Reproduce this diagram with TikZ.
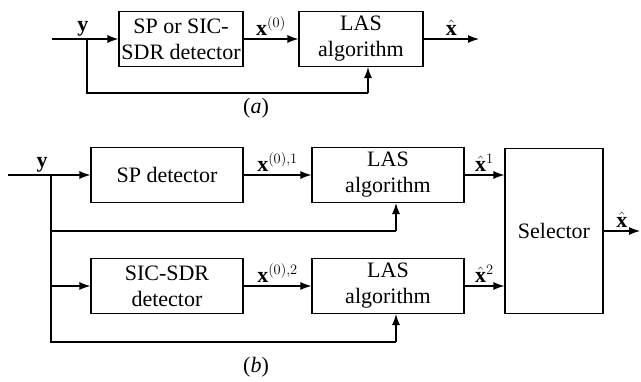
\documentclass[tikz,border=0pt]{standalone}
\usepackage{amsmath}
\usepackage{fontspec}
\setmainfont{Liberation Serif}
\usetikzlibrary{arrows.meta,calc,positioning}

\tikzset{blk/.style={draw,line width=1.1pt,inner sep=0pt,align=center,minimum height=55pt},
  sig/.style={line width=1.1pt},
  lbl/.style={above,inner sep=3pt}}

\begin{document}
\begin{tikzpicture}[x=1pt,y=1pt,>={Latex[length=11pt,width=8pt]},font=\fontsize{22}{26}\selectfont]
\useasboundingbox (0,0) rectangle (641,381);
% (a) one detector then LAS
\node[blk,minimum width=124pt] (det) at (181,342) {SP or SIC-\\SDR detector};
\node[blk,minimum width=124pt] (las) at (361,342) {LAS\\algorithm};
\coordinate (ina) at (52,342); \coordinate (spa) at (87,342); \coordinate (outa) at (479,342);
\coordinate (fba) at (368,288);
\draw[sig] (ina)--(spa); \draw[sig,->] (spa)--(det);
\node[lbl] (ya) at (83,342) {$\mathbf{y}$};
\draw[sig,->] (det)--(las) node[lbl,midway] (x0) {$\mathbf{x}^{(0)}$};
\draw[sig,->] (las)--(outa) node[lbl,midway] (xha) {$\hat{\mathbf{x}}$};
\draw[sig] (spa)|-(fba); \draw[sig,->] (fba)--(fba|-las.south);
\node (capa) at (256,273) {(\textit{a})};
% (b) two detectors, two LAS, selector
\node[blk,minimum width=152pt] (sp) at (167,206) {SP detector};
\node[blk,minimum width=152pt] (las1) at (388,206) {LAS\\algorithm};
\node[blk,minimum width=152pt] (sic) at (167,95) {SIC-SDR\\detector};
\node[blk,minimum width=152pt] (las2) at (388,95) {LAS\\algorithm};
\node[blk,minimum width=98pt,minimum height=165pt] (sel) at (554,150) {Selector};
\coordinate (inb) at (8,206); \coordinate (spb) at (51,206); \coordinate (outb) at (640,150);
\coordinate (fb1) at (396,150); \coordinate (fb2) at (396,39);
\draw[sig] (inb)--(spb); \draw[sig,->] (spb)--(sp);
\node[lbl] (yb) at (42,206) {$\mathbf{y}$};
\draw[sig] (spb)|-(fb2); \draw[sig,->] (fb2)--(fb2|-las2.south);
\draw[sig] (spb|-fb1)--(fb1); \draw[sig,->] (fb1)--(fb1|-las1.south);
\draw[sig,->] (spb|-sic)--(sic);
\draw[sig,->] (sp)--(las1) node[lbl,midway] (x01) {$\mathbf{x}^{(0),1}$};
\draw[sig,->] (sic)--(las2) node[lbl,midway] (x02) {$\mathbf{x}^{(0),2}$};
\draw[sig,->] (las1)--(las1-|sel.west) node[lbl,midway] (xh1) {$\hat{\mathbf{x}}^1$};
\draw[sig,->] (las2)--(las2-|sel.west) node[lbl,midway] (xh2) {$\hat{\mathbf{x}}^2$};
\draw[sig,->] (sel)--(outb) node[lbl,midway] (xhb) {$\hat{\mathbf{x}}$};
\node (capb) at (256,14) {(\textit{b})};
\end{tikzpicture}
\end{document}
